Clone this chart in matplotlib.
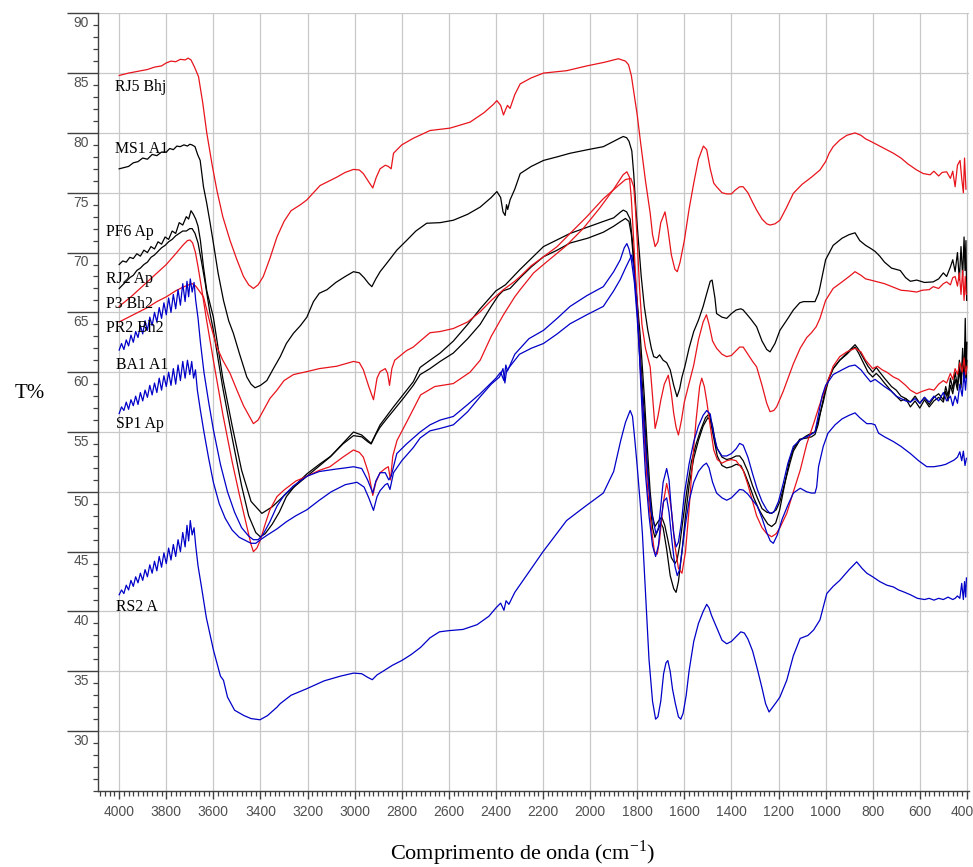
import numpy as np
import matplotlib.pyplot as plt
from matplotlib.ticker import MultipleLocator, FixedLocator
import matplotlib.transforms as mtransforms

# spettri FTIR: coppie (numero d'onda cm-1, T%)
rj5_bhj = [(4000,84.8),(3960,85.0),(3920,85.15),(3880,85.3),(3850,85.5),(3820,85.6),(3800,85.85),(3780,86.0),(3760,85.95),(3740,86.15),(3720,86.1),(3707,86.25),(3695,86.1),(3680,85.5),(3663,84.7),(3645,82.5),(3628,80.0),(3605,77.3),(3585,75.2),(3560,73.0),(3529,71.0),(3500,69.4),(3472,68.0),(3450,67.3),(3430,67.0),(3410,67.3),(3388,68.0),(3360,69.5),(3330,71.3),(3300,72.6),(3270,73.5),(3230,74.0),(3203,74.4),(3147,75.6),(3076,76.3),(3040,76.7),(3005,76.95),(2980,76.9),(2963,76.6),(2940,75.9),(2923,75.4),(2908,76.3),(2892,77.0),(2870,77.3),(2857,77.2),(2845,77.0),(2835,78.3),(2800,79.0),(2751,79.55),(2680,80.2),(2595,80.4),(2510,80.9),(2450,81.7),(2410,82.4),(2396,82.7),(2380,82.3),(2368,81.5),(2358,82.0),(2351,82.3),(2340,82.05),(2320,83.2),(2297,84.1),(2250,84.6),(2198,85.0),(2100,85.2),(2014,85.6),(1940,85.9),(1880,86.2),(1865,86.1),(1850,86.0),(1837,85.7),(1825,84.8),(1816,83.6),(1800,81.5),(1787,79.4),(1765,76.0),(1745,73.3),(1735,71.5),(1724,70.5),(1712,70.9),(1700,72.5),(1682,73.4),(1670,72.0),(1655,69.8),(1640,68.6),(1630,68.4),(1618,69.2),(1600,71.0),(1580,73.6),(1560,75.8),(1540,77.8),(1519,78.9),(1505,78.6),(1490,77.0),(1475,75.8),(1463,75.5),(1440,75.0),(1420,74.9),(1400,74.9),(1385,75.2),(1365,75.5),(1350,75.5),(1330,75.0),(1310,74.2),(1293,73.55),(1270,72.8),(1250,72.4),(1236,72.3),(1215,72.4),(1194,72.7),(1165,73.8),(1137,74.95),(1100,75.7),(1060,76.3),(1024,76.9),(1000,77.6),(985,78.3),(968,78.85),(940,79.4),(910,79.8),(875,80.0),(850,79.8),(830,79.5),(809,79.3),(780,79.0),(750,78.7),(712,78.3),(680,77.9),(650,77.4),(613,76.9),(585,76.6),(556,76.5),(540,76.8),(520,76.4),(505,76.7),(486,76.75),(470,76.2),(460,76.8),(450,75.5),(440,77.3),(429,77.7),(422,76.2),(415,75.0),(410,77.9),(404,75.3)]

ms1_a1 = [(4000,77.0),(3980,77.1),(3960,77.2),(3940,77.5),(3920,77.6),(3900,77.9),(3880,77.8),(3860,78.2),(3840,78.1),(3820,78.4),(3800,78.4),(3785,78.7),(3770,78.6),(3755,78.9),(3741,78.85),(3725,79.0),(3710,78.9),(3700,79.05),(3691,79.0),(3678,78.85),(3667,78.2),(3656,77.7),(3642,75.5),(3628,74.1),(3614,72.5),(3600,70.8),(3580,68.3),(3557,66.0),(3535,64.3),(3515,63.25),(3490,61.6),(3458,59.6),(3440,59.0),(3423,58.7),(3400,58.9),(3373,59.3),(3345,60.3),(3316,61.3),(3290,62.4),(3260,63.25),(3230,63.9),(3203,64.6),(3175,65.9),(3150,66.6),(3117,66.9),(3080,67.5),(3040,68.0),(3005,68.4),(2980,68.3),(2960,67.9),(2940,67.4),(2927,67.15),(2910,67.8),(2892,68.4),(2860,69.2),(2821,70.2),(2780,71.0),(2740,71.8),(2694,72.45),(2637,72.5),(2581,72.7),(2520,73.2),(2467,73.8),(2420,74.6),(2396,75.1),(2380,74.6),(2370,73.4),(2361,73.1),(2355,74.0),(2350,73.6),(2340,74.4),(2320,75.3),(2297,76.6),(2250,77.2),(2198,77.7),(2140,78.0),(2085,78.3),(2010,78.6),(1944,78.85),(1900,79.3),(1870,79.6),(1859,79.7),(1845,79.6),(1835,79.3),(1823,78.5),(1815,76.6),(1805,73.5),(1795,71.05),(1783,68.0),(1770,65.5),(1755,63.5),(1740,62.0),(1730,61.3),(1717,61.2),(1705,61.45),(1690,61.0),(1675,60.8),(1660,60.2),(1645,58.9),(1631,57.95),(1620,58.6),(1610,59.6),(1598,60.45),(1580,62.0),(1560,63.4),(1540,64.35),(1520,65.5),(1506,66.5),(1490,67.6),(1482,67.7),(1470,66.2),(1463,64.9),(1440,64.6),(1420,64.5),(1400,64.9),(1380,65.2),(1360,65.3),(1350,65.2),(1320,64.5),(1293,63.8),(1270,62.6),(1250,61.9),(1236,61.7),(1215,62.4),(1194,63.5),(1160,64.5),(1137,65.2),(1110,65.8),(1094,65.9),(1070,65.9),(1045,65.9),(1030,66.6),(1024,67.1),(1000,69.4),(968,70.6),(930,71.2),(900,71.5),(875,71.65),(855,71.0),(830,70.6),(809,70.35),(790,70.1),(770,69.7),(750,69.2),(720,68.7),(683,68.5),(660,67.9),(640,67.6),(613,67.7),(580,67.5),(543,67.55),(520,67.8),(500,68.3),(486,68.0),(470,68.8),(460,69.4),(450,68.4),(440,70.0),(432,67.7),(425,70.5),(418,68.0),(412,71.3),(408,68.5),(404,71.0),(401,66.0)]

pf6_ap = [(4000,69.0),(3985,69.3),(3970,69.2),(3955,69.6),(3940,69.5),(3925,69.9),(3910,69.7),(3895,70.2),(3880,70.0),(3865,70.5),(3850,70.3),(3835,70.9),(3820,70.7),(3805,71.3),(3790,71.1),(3775,71.8),(3760,71.6),(3745,72.5),(3730,72.3),(3715,73.0),(3705,72.8),(3695,73.5),(3685,73.2),(3675,72.8),(3665,72.2),(3655,71.0),(3642,68.8),(3628,66.8),(3600,64.6),(3560,59.5),(3520,55.5),(3480,51.8),(3440,49.2),(3394,48.2),(3350,48.75),(3288,49.9),(3203,51.3),(3105,52.9),(3005,55.0),(2970,54.75),(2930,54.05),(2892,55.6),(2835,57.1),(2751,59.2),(2722,60.4),(2680,61.0),(2637,61.6),(2581,62.6),(2520,64.0),(2467,65.3),(2400,66.8),(2360,67.3),(2297,68.6),(2198,70.5),(2085,71.6),(1944,72.6),(1900,72.9),(1870,73.4),(1859,73.55),(1845,73.4),(1830,72.8),(1818,70.5),(1805,67.0),(1787,63.0),(1770,58.0),(1758,54.0),(1745,50.0),(1735,48.0),(1725,47.1),(1712,47.5),(1696,47.9),(1683,47.2),(1670,46.0),(1655,44.5),(1640,44.0),(1631,44.3),(1620,45.5),(1605,47.8),(1590,50.0),(1570,52.5),(1550,54.0),(1530,55.2),(1510,56.2),(1495,56.5),(1480,55.5),(1465,53.8),(1440,52.9),(1420,52.7),(1400,52.8),(1380,53.0),(1365,53.0),(1350,52.6),(1330,51.7),(1310,50.5),(1290,49.5),(1270,48.6),(1250,48.3),(1229,48.2),(1210,48.5),(1194,49.2),(1170,51.0),(1150,52.5),(1137,53.4),(1110,54.3),(1080,54.7),(1060,54.9),(1045,55.0),(1035,55.7),(1024,56.5),(1010,57.5),(1000,58.4),(985,59.5),(968,60.3),(940,61.0),(910,61.6),(890,62.0),(875,62.3),(860,61.9),(840,61.2),(820,60.5),(800,60.0),(785,60.4),(770,60.0),(750,59.5),(720,58.8),(700,58.5),(680,58.0),(660,57.8),(640,57.5),(620,58.0),(600,57.4),(580,57.9),(560,57.3),(540,57.9),(520,58.2),(500,57.7),(490,58.8),(480,58.0),(470,59.5),(460,58.6),(450,60.0),(440,58.8),(432,61.0),(425,59.0),(418,62.0),(412,59.5),(407,64.5),(403,60.0),(400,62.5)]

rj2_ap = [(4000,67.0),(3985,67.3),(3970,67.6),(3955,67.9),(3940,68.1),(3925,68.5),(3910,68.7),(3895,69.0),(3880,69.2),(3865,69.6),(3850,69.8),(3835,70.1),(3820,70.4),(3805,70.6),(3790,70.9),(3775,71.1),(3760,71.4),(3745,71.6),(3730,71.8),(3715,71.8),(3700,72.0),(3690,72.0),(3678,71.6),(3665,70.8),(3650,69.2),(3635,67.5),(3615,65.0),(3600,63.5),(3560,58.7),(3520,54.5),(3480,50.5),(3450,48.0),(3420,46.6),(3401,46.25),(3380,46.5),(3350,47.3),(3320,48.3),(3290,49.6),(3250,50.6),(3203,51.5),(3150,52.3),(3100,53.0),(3050,54.0),(3005,54.7),(2970,54.6),(2945,54.2),(2930,54.0),(2910,54.8),(2892,55.4),(2860,56.2),(2835,56.8),(2790,57.9),(2751,58.9),(2722,59.8),(2680,60.3),(2637,60.9),(2581,61.6),(2520,62.8),(2467,64.0),(2420,65.5),(2390,66.4),(2370,66.8),(2340,67.0),(2297,67.9),(2250,68.8),(2198,69.65),(2140,70.2),(2085,70.8),(2010,71.2),(1944,71.7),(1900,72.2),(1870,72.6),(1850,72.85),(1835,72.6),(1825,71.5),(1812,68.5),(1800,65.5),(1787,61.5),(1770,56.5),(1758,52.5),(1745,49.0),(1735,47.0),(1725,46.2),(1712,46.8),(1700,47.4),(1690,47.0),(1675,45.2),(1660,43.0),(1645,41.9),(1635,41.6),(1625,42.5),(1610,45.0),(1595,48.0),(1580,50.5),(1560,52.8),(1540,54.3),(1520,55.5),(1500,56.2),(1490,56.0),(1475,54.5),(1460,53.0),(1440,52.2),(1420,52.0),(1400,52.1),(1380,52.3),(1360,52.2),(1345,51.6),(1325,50.6),(1305,49.5),(1285,48.6),(1265,47.9),(1245,47.3),(1229,47.1),(1212,47.4),(1195,48.5),(1175,50.5),(1155,52.5),(1137,53.6),(1110,54.4),(1080,54.5),(1060,54.6),(1045,54.8),(1032,55.6),(1020,56.8),(1005,58.2),(990,59.3),(968,60.3),(940,61.0),(910,61.5),(890,61.9),(875,62.1),(860,61.6),(840,60.8),(820,60.0),(800,59.6),(785,59.9),(770,59.6),(750,59.1),(720,58.4),(700,58.0),(680,57.6),(660,57.8),(640,57.1),(620,57.6),(600,57.0),(580,57.7),(560,57.1),(540,57.6),(520,57.9),(500,57.5),(490,58.4),(480,57.6),(470,58.9),(460,58.2),(450,59.4),(440,58.5),(432,60.3),(425,58.7),(418,61.0),(412,59.2),(407,62.5),(403,59.5),(400,61.0)]

p3_bh2 = [(4000,65.5),(3950,66.3),(3900,67.2),(3850,68.1),(3800,69.0),(3760,69.9),(3730,70.6),(3710,71.0),(3699,71.05),(3688,70.8),(3676,70.0),(3665,68.8),(3650,67.0),(3630,64.5),(3600,61.0),(3560,56.5),(3520,52.5),(3490,49.8),(3460,47.3),(3440,45.6),(3430,45.0),(3415,45.3),(3400,46.0),(3380,47.3),(3360,48.5),(3330,49.6),(3300,50.15),(3250,50.9),(3203,51.3),(3150,51.8),(3105,52.1),(3050,52.9),(3005,53.5),(2980,53.3),(2963,52.9),(2940,51.5),(2923,49.7),(2910,50.8),(2892,51.6),(2870,51.95),(2857,52.1),(2848,51.0),(2838,53.0),(2820,54.3),(2780,55.8),(2720,58.1),(2660,58.8),(2581,59.05),(2510,60.0),(2467,61.0),(2420,63.0),(2368,64.8),(2320,66.3),(2297,66.9),(2240,68.3),(2198,69.0),(2100,70.6),(2030,72.0),(1960,73.7),(1900,75.3),(1860,76.5),(1844,76.75),(1833,76.3),(1825,74.5),(1815,71.0),(1800,65.5),(1787,60.5),(1770,54.5),(1755,50.0),(1740,47.0),(1727,45.0),(1715,44.8),(1705,46.0),(1690,49.0),(1675,50.7),(1665,49.8),(1655,48.5),(1640,45.5),(1625,43.6),(1610,43.2),(1595,45.0),(1580,48.5),(1565,52.5),(1550,56.0),(1535,58.8),(1526,59.5),(1515,58.8),(1505,57.6),(1490,55.5),(1475,53.5),(1460,52.7),(1440,52.4),(1420,52.6),(1400,52.7),(1380,52.6),(1365,52.2),(1350,51.8),(1330,50.6),(1310,49.2),(1293,48.0),(1270,47.0),(1250,46.5),(1229,46.25),(1210,46.5),(1194,47.0),(1165,48.2),(1137,50.0),(1108,51.8),(1080,54.0),(1051,55.7),(1030,57.0),(1009,58.2),(990,59.3),(968,60.5),(940,61.3),(910,61.7),(875,62.0),(850,61.7),(830,61.0),(800,60.3),(780,60.5),(760,60.2),(740,60.0),(712,59.6),(690,59.4),(660,58.9),(640,58.5),(613,58.2),(590,58.4),(560,58.6),(540,58.5),(520,59.0),(500,59.3),(486,59.1),(470,59.9),(460,59.4),(450,60.3),(440,59.8),(430,60.8),(420,60.0),(412,61.2),(405,59.8),(400,60.5)]

pr2_bh2 = [(4000,64.2),(3960,64.6),(3920,65.0),(3880,65.4),(3840,65.9),(3800,66.3),(3760,66.8),(3730,67.1),(3705,67.3),(3690,67.4),(3675,67.2),(3660,66.8),(3642,66.3),(3614,64.1),(3585,62.1),(3560,61.0),(3529,59.9),(3500,58.5),(3472,57.2),(3444,56.2),(3430,55.7),(3410,56.0),(3388,56.8),(3360,57.8),(3330,58.5),(3300,59.3),(3260,59.8),(3203,60.05),(3150,60.3),(3076,60.5),(3040,60.7),(3005,60.9),(2980,60.8),(2963,60.2),(2940,58.8),(2920,57.7),(2905,59.5),(2892,60.05),(2870,60.3),(2860,59.9),(2852,58.9),(2842,60.3),(2830,61.0),(2780,61.8),(2751,62.1),(2722,62.6),(2680,63.3),(2637,63.4),(2581,63.65),(2520,64.2),(2467,65.05),(2420,66.0),(2368,66.9),(2320,67.6),(2297,68.0),(2250,68.9),(2198,69.65),(2140,70.5),(2085,71.6),(2014,73.0),(1944,74.5),(1880,75.6),(1850,76.1),(1827,76.2),(1815,75.5),(1808,73.8),(1800,71.0),(1790,67.0),(1780,64.0),(1765,62.0),(1745,60.45),(1735,58.0),(1724,55.3),(1712,56.3),(1700,57.65),(1685,59.0),(1668,59.75),(1655,58.2),(1645,56.55),(1635,55.4),(1625,54.75),(1612,56.0),(1600,57.5),(1580,59.05),(1560,60.6),(1540,62.7),(1520,64.2),(1506,64.8),(1495,64.0),(1480,62.6),(1463,62.0),(1440,61.5),(1420,61.3),(1400,61.4),(1380,61.8),(1365,62.1),(1350,62.1),(1330,61.5),(1310,60.9),(1293,60.45),(1270,58.9),(1250,57.4),(1236,56.7),(1220,56.8),(1208,57.1),(1180,58.4),(1150,60.0),(1137,60.7),(1108,62.0),(1080,62.9),(1060,63.3),(1040,63.8),(1024,64.5),(1000,66.0),(968,67.0),(930,67.55),(900,68.0),(875,68.4),(850,68.1),(830,67.8),(809,67.7),(780,67.55),(750,67.4),(712,67.1),(680,66.85),(650,66.8),(613,66.7),(590,66.85),(560,66.9),(543,67.15),(520,67.0),(500,67.4),(486,67.55),(470,67.3),(460,67.9),(450,68.0),(440,67.2),(432,68.3),(425,66.5),(418,68.5),(412,66.0),(407,68.0),(403,66.5)]

ba1_a1 = [(4000,61.85),(3990,62.4),(3980,61.9),(3970,62.7),(3960,62.2),(3950,63.1),(3940,62.5),(3930,63.4),(3920,62.9),(3910,63.9),(3900,63.2),(3890,64.3),(3880,63.5),(3870,64.6),(3860,63.9),(3850,65.0),(3840,64.2),(3830,65.4),(3820,64.5),(3810,65.8),(3800,64.8),(3790,66.2),(3780,65.0),(3770,66.5),(3760,65.3),(3750,66.9),(3740,65.6),(3730,67.4),(3720,65.9),(3712,67.6),(3705,66.3),(3698,67.8),(3690,66.7),(3682,67.5),(3675,66.0),(3665,64.5),(3655,62.5),(3640,60.0),(3620,57.5),(3600,55.2),(3570,52.3),(3540,50.0),(3510,48.3),(3480,47.0),(3450,46.3),(3430,46.0),(3410,46.0),(3390,46.4),(3360,47.5),(3330,48.8),(3300,49.7),(3260,50.5),(3203,51.3),(3150,51.7),(3080,51.9),(3040,52.0),(3005,52.1),(2970,51.95),(2945,51.0),(2923,49.9),(2910,50.9),(2892,51.6),(2870,51.6),(2855,51.0),(2845,51.3),(2821,53.2),(2780,54.0),(2751,54.5),(2722,55.0),(2680,55.6),(2637,56.0),(2581,56.3),(2520,57.3),(2467,58.2),(2400,59.5),(2380,60.0),(2366,59.3),(2358,60.6),(2351,60.1),(2320,61.5),(2260,62.8),(2198,63.5),(2140,64.5),(2085,65.5),(2014,66.4),(1944,67.15),(1900,68.4),(1872,69.4),(1855,70.4),(1844,70.75),(1835,70.3),(1825,69.4),(1812,67.5),(1800,64.5),(1787,60.45),(1770,55.5),(1758,52.1),(1742,48.5),(1727,47.1),(1720,46.5),(1710,47.0),(1700,48.8),(1690,50.8),(1675,51.95),(1665,51.0),(1655,48.5),(1645,46.5),(1635,45.4),(1625,45.8),(1612,47.5),(1600,49.8),(1580,52.3),(1560,54.2),(1540,55.5),(1520,56.4),(1505,56.8),(1490,56.5),(1475,54.8),(1460,53.6),(1440,53.0),(1420,53.0),(1400,53.2),(1380,53.6),(1365,54.05),(1350,53.9),(1330,52.9),(1310,51.5),(1290,50.2),(1270,49.2),(1250,48.5),(1236,48.2),(1220,48.3),(1200,49.2),(1180,50.7),(1160,52.4),(1137,53.8),(1110,54.3),(1094,54.5),(1070,54.7),(1045,55.0),(1030,56.5),(1015,58.0),(1000,58.9),(985,59.3),(968,59.8),(930,60.2),(900,60.5),(875,60.6),(850,60.2),(830,59.7),(809,59.2),(790,59.4),(770,59.1),(750,58.8),(720,58.4),(700,58.0),(680,57.8),(660,57.6),(640,57.5),(620,57.8),(600,57.4),(580,57.9),(560,57.5),(540,58.0),(520,57.6),(500,58.3),(486,57.6),(470,58.0),(460,57.2),(450,58.0),(440,57.4),(430,59.0),(420,58.0),(412,60.0),(406,58.5),(402,59.5)]

sp1_ap = [(4000,56.55),(3990,57.1),(3980,56.8),(3970,57.5),(3960,56.9),(3950,57.7),(3940,57.2),(3930,58.0),(3920,57.3),(3910,58.3),(3900,57.6),(3890,58.5),(3880,57.9),(3870,58.9),(3860,58.1),(3850,59.1),(3840,58.3),(3830,59.5),(3820,58.5),(3810,59.7),(3800,58.8),(3790,60.0),(3780,58.9),(3770,60.3),(3760,59.0),(3750,60.6),(3740,59.3),(3730,60.9),(3720,59.5),(3710,61.0),(3700,59.8),(3692,60.9),(3684,59.5),(3676,60.2),(3668,58.5),(3655,56.8),(3640,55.0),(3620,52.8),(3600,50.8),(3575,49.0),(3550,47.8),(3520,46.8),(3490,46.2),(3460,45.9),(3440,45.7),(3420,45.7),(3400,46.0),(3370,46.4),(3330,46.9),(3290,47.5),(3250,48.0),(3203,48.5),(3150,49.3),(3100,50.0),(3040,50.6),(2990,50.8),(2960,50.4),(2940,49.5),(2920,48.45),(2905,49.6),(2892,50.1),(2870,50.6),(2860,50.7),(2850,50.2),(2835,51.6),(2800,52.6),(2751,53.7),(2722,54.5),(2680,55.1),(2637,55.3),(2581,55.6),(2520,56.7),(2467,57.95),(2420,59.0),(2385,59.6),(2370,60.3),(2362,59.1),(2355,60.1),(2340,60.5),(2300,61.5),(2250,62.0),(2198,62.4),(2140,63.2),(2085,64.05),(2014,64.8),(1944,65.5),(1900,66.8),(1872,67.75),(1850,68.7),(1835,69.3),(1823,69.8),(1815,68.8),(1805,66.5),(1795,63.5),(1785,59.0),(1775,55.0),(1765,51.5),(1750,48.0),(1735,45.5),(1722,44.6),(1710,45.5),(1700,47.5),(1688,49.2),(1675,49.5),(1665,48.3),(1652,45.8),(1640,43.8),(1630,43.0),(1620,43.5),(1608,45.3),(1595,47.3),(1580,49.2),(1560,50.8),(1540,51.7),(1520,52.2),(1506,52.4),(1495,52.0),(1480,50.8),(1463,49.9),(1440,49.5),(1420,49.3),(1400,49.5),(1380,49.9),(1365,50.2),(1350,50.15),(1330,49.8),(1310,49.3),(1290,48.8),(1270,47.8),(1250,46.6),(1235,45.9),(1222,45.7),(1205,46.4),(1185,47.7),(1160,48.9),(1137,49.9),(1108,50.3),(1080,50.0),(1060,49.9),(1045,49.9),(1038,50.4),(1030,52.1),(1010,53.8),(990,54.9),(960,55.6),(930,56.1),(900,56.4),(875,56.6),(855,56.2),(825,55.7),(805,55.7),(790,55.6),(775,54.9),(750,54.6),(712,54.2),(680,53.8),(640,53.2),(605,52.6),(570,52.1),(540,52.1),(510,52.2),(490,52.3),(470,52.5),(455,52.65),(440,52.9),(430,53.35),(422,52.6),(415,53.4),(408,52.2),(402,52.8)]

rs2_a = [(4000,41.4),(3990,41.8),(3980,41.5),(3970,42.2),(3960,41.8),(3950,42.6),(3940,42.1),(3930,42.9),(3920,42.4),(3910,43.2),(3900,42.6),(3890,43.5),(3880,42.9),(3870,43.9),(3860,43.2),(3850,44.2),(3840,43.4),(3830,44.6),(3820,43.7),(3810,44.9),(3800,44.0),(3790,45.3),(3780,44.3),(3770,45.6),(3760,44.6),(3750,46.0),(3740,45.0),(3730,46.6),(3720,45.4),(3712,47.2),(3705,45.9),(3698,47.6),(3690,46.4),(3682,47.0),(3675,45.5),(3665,43.8),(3650,42.0),(3630,39.5),(3600,36.8),(3570,34.6),(3557,34.25),(3540,32.85),(3510,31.75),(3470,31.3),(3440,31.05),(3402,30.95),(3370,31.3),(3330,32.0),(3316,32.3),(3270,33.0),(3203,33.55),(3130,34.2),(3060,34.6),(3005,34.85),(2970,34.8),(2945,34.5),(2925,34.3),(2905,34.7),(2880,35.0),(2840,35.5),(2800,35.9),(2760,36.4),(2720,37.0),(2680,37.8),(2640,38.3),(2600,38.4),(2540,38.5),(2480,38.9),(2430,39.6),(2400,40.3),(2380,40.7),(2366,40.1),(2357,40.9),(2345,40.6),(2320,41.6),(2260,43.3),(2200,45.0),(2150,46.3),(2100,47.6),(2020,48.8),(1944,49.9),(1900,51.7),(1870,54.3),(1850,55.8),(1830,56.8),(1820,56.3),(1810,54.3),(1800,52.1),(1787,49.0),(1778,46.5),(1770,43.5),(1763,40.9),(1750,36.0),(1735,32.5),(1722,31.0),(1712,31.2),(1700,32.5),(1688,34.8),(1678,35.7),(1670,35.9),(1660,35.0),(1650,33.5),(1638,32.3),(1625,31.2),(1615,31.0),(1605,31.5),(1592,33.0),(1580,35.0),(1560,37.5),(1540,39.0),(1520,40.0),(1505,40.6),(1495,40.3),(1485,39.7),(1470,39.0),(1455,38.3),(1440,37.6),(1420,37.3),(1400,37.5),(1380,37.9),(1360,38.3),(1345,38.2),(1330,37.7),(1310,36.7),(1290,35.2),(1270,33.6),(1255,32.3),(1240,31.6),(1225,32.0),(1210,32.4),(1194,32.85),(1165,34.25),(1137,36.3),(1108,37.75),(1075,38.0),(1051,38.45),(1024,39.3),(995,41.5),(968,42.1),(940,42.6),(900,43.5),(868,44.15),(845,43.6),(825,43.2),(800,42.9),(770,42.5),(740,42.2),(712,42.05),(690,41.8),(670,41.65),(640,41.4),(610,41.1),(580,41.0),(560,41.1),(540,40.95),(520,41.1),(500,41.0),(480,41.2),(460,41.0),(450,41.1),(440,41.3),(430,41.1),(422,42.35),(415,41.0),(410,42.5),(405,41.2),(402,42.8)]

nomi = ['RJ5 Bhj', 'MS1 A1', 'PF6 Ap', 'RJ2 Ap', 'P3 Bh2', 'PR2 Bh2', 'BA1 A1', 'SP1 Ap', 'RS2 A']
spettri = [rj5_bhj, ms1_a1, pf6_ap, rj2_ap, p3_bh2, pr2_bh2, ba1_a1, sp1_ap, rs2_a]

# posizione delle etichette (cm-1, T%)
pos_etichette = [(4017, 83.5), (4017, 78.3), (4055, 71.4), (4055, 67.45), (4055, 65.4),
                 (4055, 63.4), (4013, 60.25), (4013, 55.3), (4013, 40.0)]

rosso = '#e8141c'
nero = '#000000'
blu = '#0000c8'
colori = [rosso, nero, nero, nero, rosso, rosso, blu, blu, blu]

serif = ['Liberation Serif', 'DejaVu Serif']
sans = ['Liberation Sans', 'DejaVu Sans']

fig = plt.figure(figsize=(9.73, 8.67), dpi=100)
ax = fig.add_axes([0.1007, 0.0877, 0.8952, 0.8970])

for dati, col in zip(spettri, colori):
    arr = np.array(dati)
    ax.plot(arr[:, 0], arr[:, 1], color=col, linewidth=0.9, zorder=3)

for nome, (xe, ye) in zip(nomi, pos_etichette):
    ax.text(xe, ye, nome, fontsize=11.3, family=serif, ha='left', va='baseline', zorder=4)

ax.set_xlim(4090, 391)
ax.set_ylim(25, 90)

# assi e tacche
ax.xaxis.set_major_locator(MultipleLocator(200))
ax.xaxis.set_minor_locator(MultipleLocator(20))
ax.yaxis.set_major_locator(FixedLocator(np.arange(30, 91, 5)))
ax.yaxis.set_minor_locator(MultipleLocator(1))

ax.tick_params(axis='x', which='major', direction='out', length=6, width=1,
               color='#404040', labelcolor='#505050', labelsize=10, pad=4)
ax.tick_params(axis='x', which='minor', direction='out', length=3.5, width=0.9, color='#404040')
ax.tick_params(axis='y', which='major', direction='out', length=22, width=1,
               color='#404040', labelcolor='#505050', labelsize=10, pad=-15.5)
ax.tick_params(axis='y', which='minor', direction='out', length=3.5, width=0.9, color='#404040')

ax.grid(which='major', color='#c8c8c8', linewidth=0.9, zorder=0)
ax.set_axisbelow(True)

for lato in ['top', 'right']:
    ax.spines[lato].set_visible(False)
for lato in ['left', 'bottom']:
    ax.spines[lato].set_color('#404040')
    ax.spines[lato].set_linewidth(1)

fig.text(30 / 973, 1 - 393 / 867, 'T%', fontsize=15, family=serif, ha='center', va='center')
fig.text(523 / 973, 1 - 853 / 867, 'Comprimento de onda (cm$^{\\mathregular{-1}}$)',
         fontsize=16, family=serif, ha='center', va='center')

# prima disegno, così le tacche hanno la loro posizione
fig.canvas.draw()

for tick in ax.xaxis.get_major_ticks():
    tick.label1.set_family(sans)
    if abs(tick.get_loc() - 400) < 1:
        # l'ultima etichetta rientra un po' per non uscire dal bordo
        tick.label1.set_horizontalalignment('right')
        tick.label1.set_transform(tick.label1.get_transform() +
                                  mtransforms.ScaledTranslation(7 / 100, 0, fig.dpi_scale_trans))

sposta = mtransforms.ScaledTranslation(0, -2 / 72, fig.dpi_scale_trans)
for tick in ax.yaxis.get_major_ticks():
    tick.label1.set_family(sans)
    tick.label1.set_verticalalignment('top')
    tick.label1.set_transform(tick.label1.get_transform() + sposta)

fig.savefig('out.png', dpi=100)
